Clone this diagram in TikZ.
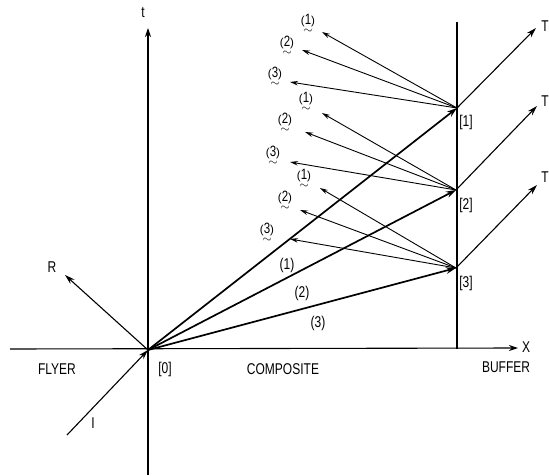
\documentclass[tikz,border=0pt]{standalone}
\usepackage{fontspec}
\usepackage{amsmath}
\usepackage{graphicx}
\setmainfont{Liberation Sans}
\usetikzlibrary{arrows.meta}
\newcommand{\tallt}[1]{\scalebox{1}[1.3]{#1}}
\newcommand{\wn}[1]{(\ooalign{\tallt{#1}\cr\hidewidth\raisebox{-8.5pt}{$\sim$}\hidewidth\cr})}
\begin{document}
\begin{tikzpicture}[x=1pt,y=-1pt,
  axis/.style={line width=1.1pt},
  axisarrow/.style={line width=1.1pt,-{Stealth[length=9pt,width=6pt]}},
  ray/.style={line width=1.7pt,-{Stealth[length=10pt,width=6.5pt]}},
  refl/.style={line width=0.9pt,-{Stealth[length=8pt,width=4.5pt]}},
  trans/.style={line width=1.1pt,-{Stealth[length=10pt,width=6pt]}},
  lbl/.style={font=\fontsize{12}{14}\selectfont, inner sep=0pt},
  wlbl/.style={font=\fontsize{11.5}{13}\selectfont, inner sep=0pt},
]
\useasboundingbox (0,0) rectangle (549,476);
% key points
\coordinate (O) at (148,350);
\coordinate (P1) at (457,108);
\coordinate (P2) at (456,190);
\coordinate (P3) at (456,268);
% axes
\coordinate (XL) at (10,349);
\coordinate (XR) at (518,348);
\coordinate (TB) at (148,475);
\coordinate (TT) at (148,28);
\coordinate (BB) at (457,349);
\coordinate (BT) at (457,22);
\draw[axisarrow] (XL) -- (XR);
\draw[axisarrow] (TB) -- (TT);
\draw[axis] (BB) -- (BT);
\node[lbl] (tl) at (143,13) {\tallt{t}};
\node[lbl] (xlab) at (526,347) {\tallt{X}};
% incident and reflected at origin
\coordinate (Iend) at (67,435);
\coordinate (Rend) at (65,275);
\draw[trans] (Iend) -- (O);
\draw[trans] (O) -- (Rend);
\node[lbl] (Rl) at (52,267) {\tallt{R}};
\node[lbl] (Il) at (93,423) {\tallt{I}};
% transmitted rays into composite
\draw[ray] (O) -- (P1);
\draw[ray] (O) -- (P2);
\draw[ray] (O) -- (P3);
\node[lbl] (c1) at (287,265) {\tallt{(1)}};
\node[lbl] (c2) at (302,293) {\tallt{(2)}};
\node[lbl] (c3) at (318,323) {\tallt{(3)}};
% transmitted into buffer
\coordinate (T1) at (536,28);
\coordinate (T2) at (537,106);
\coordinate (T3) at (537,185);
\draw[trans] (P1) -- (T1);
\draw[trans] (P2) -- (T2);
\draw[trans] (P3) -- (T3);
\node[lbl,anchor=east] (T1l) at (549,26) {\tallt{T}};
\node[lbl,anchor=east] (T2l) at (549,101) {\tallt{T}};
\node[lbl,anchor=east] (T3l) at (549,177) {\tallt{T}};
% reflected waves from [1]
\coordinate (a1) at (322,32);
\coordinate (a2) at (302,50);
\coordinate (a3) at (290,82);
\draw[refl] (P1) -- (a1);
\draw[refl] (P1) -- (a2);
\draw[refl] (P1) -- (a3);
\node[wlbl] (la1) at (308,24) {\wn{1}};
\node[wlbl] (la2) at (287,46) {\wn{2}};
\node[wlbl] (la3) at (275,77) {\wn{3}};
% reflected waves from [2]
\coordinate (b1) at (322,113);
\coordinate (b2) at (305,132);
\coordinate (b3) at (290,162);
\draw[refl] (P2) -- (b1);
\draw[refl] (P2) -- (b2);
\draw[refl] (P2) -- (b3);
\node[wlbl] (lb1) at (306,102) {\wn{1}};
\node[wlbl] (lb2) at (285,123) {\wn{2}};
\node[wlbl] (lb3) at (273,156) {\wn{3}};
% reflected waves from [3]
\coordinate (c1a) at (320,188);
\coordinate (c2a) at (300,210);
\coordinate (c3a) at (290,239);
\draw[refl] (P3) -- (c1a);
\draw[refl] (P3) -- (c2a);
\draw[refl] (P3) -- (c3a);
\node[wlbl] (lc1) at (304,179) {\wn{1}};
\node[wlbl] (lc2) at (285,201) {\wn{2}};
\node[wlbl] (lc3) at (267,233) {\wn{3}};
% point labels
\node[lbl] (n0) at (165,369) {\tallt{[0]}};
\node[lbl] (n1) at (466,122) {\tallt{[1]}};
\node[lbl] (n2) at (466,205) {\tallt{[2]}};
\node[lbl] (n3) at (466,283) {\tallt{[3]}};
% region labels
\node[lbl] (fly) at (57,369) {\tallt{FLYER}};
\node[lbl] (comp) at (283,369) {\tallt{COMPOSITE}};
\node[lbl] (buf) at (506,367) {\tallt{BUFFER}};
\end{tikzpicture}
\end{document}
